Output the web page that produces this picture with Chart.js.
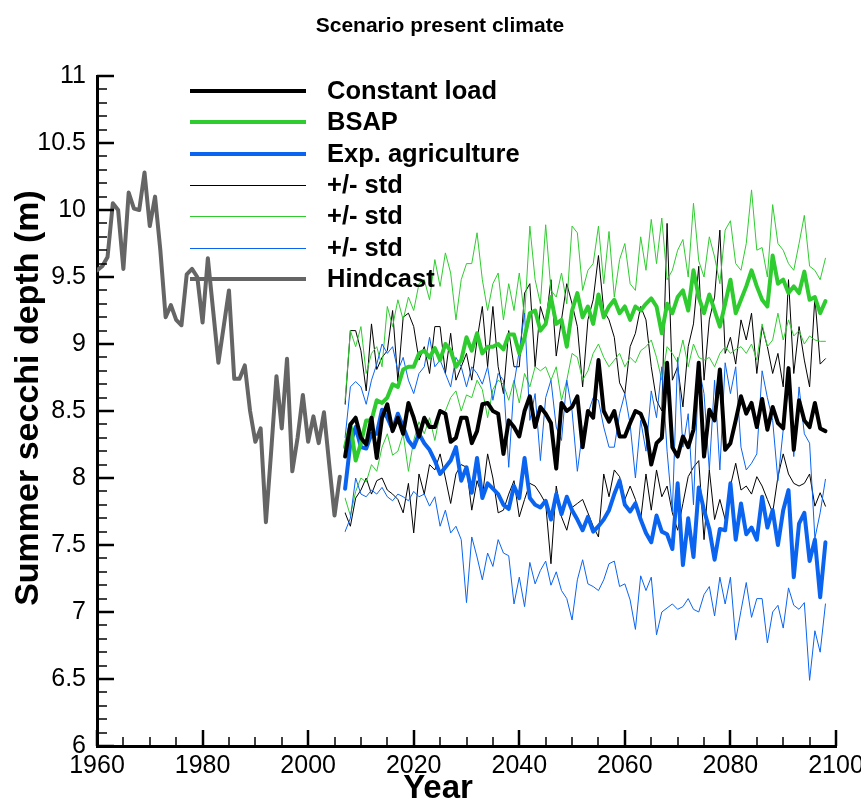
<!DOCTYPE html>
<html><head><meta charset="utf-8">
<script src="https://cdn.jsdelivr.net/npm/chart.js@4.4.1/dist/chart.umd.min.js"></script>
<style>html,body{margin:0;padding:0;background:#fff;}#wrap{width:861px;height:805px;position:relative;}</style>
</head><body><div id="wrap"><canvas id="c" width="861" height="805"></canvas></div>
<script>
const FONT = "'Liberation Sans', Arial, Helvetica, sans-serif";
const chartTitle = "Scenario present climate";
const xTitle = "Year";
const yTitle = "Summer secchi depth (m)";

const hindcastYears = [1960,1961,1962,1963,1964,1965,1966,1967,1968,1969,1970,1971,1972,1973,1974,1975,1976,1977,1978,1979,1980,1981,1982,1983,1984,1985,1986,1987,1988,1989,1990,1991,1992,1993,1994,1995,1996,1997,1998,1999,2000,2001,2002,2003,2004,2005,2006];
const hindcast = [9.55,9.58,9.65,10.05,10.0,9.56,10.13,10.01,10.0,10.28,9.88,10.1,9.7,9.2,9.29,9.18,9.14,9.52,9.56,9.5,9.16,9.64,9.25,8.86,9.13,9.40,8.74,8.74,8.84,8.5,8.27,8.37,7.67,8.2,8.76,8.37,8.89,8.05,8.3,8.62,8.27,8.46,8.26,8.49,8.1,7.72,8.01];

const scenarioYears = [2007,2008,2009,2010,2011,2012,2013,2014,2015,2016,2017,2018,2019,2020,2021,2022,2023,2024,2025,2026,2027,2028,2029,2030,2031,2032,2033,2034,2035,2036,2037,2038,2039,2040,2041,2042,2043,2044,2045,2046,2047,2048,2049,2050,2051,2052,2053,2054,2055,2056,2057,2058,2059,2060,2061,2062,2063,2064,2065,2066,2067,2068,2069,2070,2071,2072,2073,2074,2075,2076,2077,2078,2079,2080,2081,2082,2083,2084,2085,2086,2087,2088,2089,2090,2091,2092,2093,2094,2095,2096,2097,2098];

const constantLoad = [8.16,8.40,8.45,8.30,8.25,8.45,8.15,8.45,8.55,8.35,
8.45,8.33,8.56,8.45,8.31,8.45,8.38,8.38,8.50,8.48,
8.27,8.30,8.45,8.45,8.26,8.35,8.55,8.56,8.50,8.48,
8.18,8.43,8.38,8.31,8.50,8.61,8.38,8.53,8.48,8.41,
8.07,8.56,8.50,8.53,8.61,8.23,8.50,8.45,8.88,8.50,
8.42,8.50,8.31,8.31,8.41,8.50,8.48,8.38,8.10,8.26,
8.30,8.86,8.23,8.16,8.31,8.23,8.36,8.86,8.16,8.51,
8.43,8.81,8.21,8.26,8.43,8.61,8.48,8.56,8.38,8.59,
8.36,8.53,8.41,8.37,8.82,8.21,8.58,8.43,8.38,8.56,
8.37,8.35];
const bsap = [8.23,8.40,8.13,8.26,8.43,8.43,8.58,8.56,8.60,8.70,
8.68,8.81,8.83,8.83,8.93,8.95,8.90,8.97,8.88,9.00,
8.95,8.83,8.88,9.05,8.95,9.08,8.93,8.98,8.98,9.00,
8.96,9.07,9.07,8.93,9.05,9.23,9.25,9.10,9.15,9.35,
9.15,9.18,8.98,9.25,9.38,9.20,9.28,9.15,9.37,9.20,
9.28,9.33,9.23,9.28,9.18,9.28,9.25,9.30,9.34,9.28,
9.08,9.30,9.23,9.35,9.40,9.25,9.55,9.35,9.23,9.37,
9.25,9.13,9.30,9.48,9.23,9.33,9.43,9.55,9.43,9.33,
9.28,9.66,9.45,9.48,9.38,9.43,9.38,9.54,9.33,9.35,
9.23,9.32];
const expAgriculture = [7.92,8.26,8.38,8.23,8.22,8.33,8.33,8.51,8.45,8.36,
8.48,8.38,8.28,8.23,8.33,8.26,8.21,8.13,8.03,8.08,
8.13,8.23,7.98,8.08,7.89,8.15,7.85,7.96,7.92,7.88,
7.80,7.77,7.94,7.85,8.15,7.85,7.80,7.78,7.83,7.69,
7.88,7.73,7.86,7.76,7.69,7.61,7.71,7.60,7.64,7.69,
7.76,7.88,7.98,7.80,7.75,7.81,7.69,7.59,7.52,7.72,
7.60,7.58,7.47,7.96,7.35,7.70,7.41,7.93,7.76,7.62,
7.39,7.62,7.61,7.96,7.54,7.81,7.58,7.63,7.54,7.86,
7.63,7.76,7.50,7.76,7.91,7.26,7.66,7.74,7.38,7.54,
7.11,7.52];

const constantLoadPlusStd = [8.55,9.10,9.10,8.95,8.65,9.15,8.81,8.90,8.95,9.25,
8.72,9.20,9.23,9.13,8.88,8.98,8.78,9.13,9.13,8.78,
9.08,8.73,8.83,8.93,8.73,9.03,9.28,8.83,9.28,8.83,
8.63,9.10,8.83,8.83,9.38,9.45,8.83,9.28,9.15,9.48,
8.91,9.18,9.45,9.30,9.13,8.68,9.18,9.33,9.66,9.25,
9.18,9.05,8.71,8.63,8.98,9.08,9.28,9.18,8.83,8.58,
8.50,9.90,8.73,8.83,8.53,8.98,9.15,9.58,8.73,9.18,
9.35,9.85,8.93,9.05,8.85,9.18,9.03,9.23,8.78,9.13,
8.98,8.78,8.93,8.68,9.48,8.78,9.13,8.88,8.68,9.35,
8.85,8.89];
const constantLoadMinusStd = [7.74,7.64,7.85,7.91,8.00,7.88,7.98,8.00,7.91,7.88,
7.84,7.74,7.96,7.59,8.03,7.88,8.10,8.06,8.18,8.00,
7.81,8.03,8.10,8.08,7.76,7.98,7.86,8.18,8.00,7.74,
7.76,7.88,7.98,7.71,7.84,7.96,7.94,7.88,7.81,7.36,
7.94,7.71,7.61,7.78,7.81,7.84,7.74,7.64,7.56,8.03,
7.86,8.06,8.01,7.84,7.94,7.84,7.69,8.03,7.76,8.06,
7.86,7.94,7.74,7.61,7.81,8.01,8.08,8.13,7.54,8.06,
7.69,7.84,7.69,7.94,8.11,7.91,7.94,7.88,8.01,7.94,
7.84,7.74,8.01,8.18,8.03,7.96,7.94,7.96,8.03,7.79,
7.89,7.79];
const bsapPlusStd = [8.58,9.10,8.98,9.13,8.78,8.93,8.98,8.83,9.28,9.13,
9.33,9.18,9.35,9.25,9.45,9.48,9.33,9.63,9.43,9.68,
9.53,9.18,9.48,9.60,9.60,9.83,9.48,9.25,9.45,9.53,
9.18,9.45,9.25,9.53,9.20,9.88,9.48,9.30,9.89,9.40,
9.35,9.53,9.30,9.88,9.83,9.40,9.55,9.60,9.88,9.45,
9.84,9.35,9.63,9.75,9.45,9.40,9.80,9.55,9.93,9.60,
9.94,9.48,9.55,9.70,9.78,9.50,10.05,9.62,9.50,9.80,
9.65,9.45,9.85,9.92,9.60,9.55,9.75,10.15,9.70,9.72,
9.50,10.04,9.75,9.70,9.60,9.55,9.75,9.96,9.58,9.55,
9.48,9.64];
const bsapMinusStd = [7.85,7.72,7.90,8.00,7.97,8.10,8.05,8.23,8.33,8.17,
8.20,8.33,8.05,8.28,8.42,8.33,8.45,8.28,8.48,8.50,
8.60,8.65,8.50,8.62,8.60,8.73,8.66,8.45,8.66,8.73,
8.70,8.58,8.73,8.56,8.78,8.68,8.83,8.80,8.83,8.73,
8.83,8.58,8.73,8.93,8.90,8.73,8.80,8.93,9.00,8.90,
8.83,8.88,8.93,8.83,8.90,8.86,8.95,8.98,9.03,8.90,
8.73,8.98,8.93,8.86,9.03,8.83,9.00,8.90,8.88,8.90,
8.83,8.93,8.98,8.93,8.96,8.98,8.93,9.00,8.88,9.15,
8.98,9.03,9.23,9.03,9.18,9.06,9.10,9.00,9.06,9.03,
9.02,9.02];
const expAgriculturePlusStd = [8.30,8.68,8.72,8.68,8.55,8.73,8.85,9.00,8.93,8.98,
8.80,8.90,8.73,8.63,8.78,8.83,9.05,8.83,8.88,8.78,
8.68,8.90,8.83,8.68,8.83,8.78,8.70,8.83,8.58,8.78,
8.73,8.08,8.70,8.95,9.23,8.43,8.63,8.13,8.60,8.73,
8.38,8.28,8.73,8.50,8.05,8.35,8.48,8.60,8.58,8.38,
8.23,8.23,8.48,8.63,8.40,8.00,8.43,8.20,8.65,8.45,
8.83,8.20,7.75,8.90,8.23,8.48,7.80,8.83,8.63,8.06,
8.73,8.06,8.86,8.63,8.83,8.23,8.06,8.11,8.18,8.80,
8.60,8.43,7.98,8.36,8.68,8.16,8.68,8.33,8.26,7.55,
7.74,7.99];
const expAgricultureMinusStd = [7.60,7.70,8.00,7.88,7.86,7.91,7.88,7.93,7.86,7.83,
7.88,7.86,7.83,7.90,7.86,7.88,7.79,7.86,7.64,7.76,
7.59,7.64,7.54,7.07,7.56,7.41,7.24,7.44,7.34,7.54,
7.44,7.42,7.06,7.26,7.04,7.37,7.21,7.31,7.38,7.20,
7.30,7.16,7.10,6.94,7.24,7.39,7.21,7.19,7.16,7.24,
7.36,7.38,7.19,7.21,7.09,6.87,7.27,7.16,7.26,6.83,
7.00,7.03,7.06,7.02,7.04,7.10,7.02,7.00,7.13,7.19,
6.97,7.26,7.06,7.26,6.79,7.01,7.22,6.96,7.10,7.10,
6.77,7.00,7.05,6.88,7.18,7.05,7.02,7.07,6.49,6.86,
6.70,7.06];

const legendLabels = ["Constant load","BSAP","Exp. agriculture","+/- std","+/- std","+/- std","Hindcast"];

const BLACK = "#000000", GREEN = "#2fcc2f", BLUE = "#0a64f0", GREY = "#656565";
const legendColors = [BLACK, GREEN, BLUE, BLACK, GREEN, BLUE, GREY];
const legendWidths = [4, 4, 4, 1, 1, 1, 4];

function pts(xs, ys){ return xs.map((x,i)=>({x:x, y:ys[i]})); }
function ds(label, xs, ys, color, width, order){
  return {label, data: pts(xs, ys), borderColor: color, backgroundColor: color, borderWidth: width,
    pointRadius: 0, tension: 0, fill: false, order, borderJoinStyle: 'round', borderCapStyle: 'round'};
}

const datasets = [
  ds(legendLabels[0], scenarioYears, constantLoad, BLACK, 4, 1),
  ds(legendLabels[1], scenarioYears, bsap, GREEN, 4, 2),
  ds(legendLabels[2], scenarioYears, expAgriculture, BLUE, 4, 3),
  ds(legendLabels[3], scenarioYears, constantLoadPlusStd, BLACK, 1, 6),
  ds(legendLabels[4], scenarioYears, bsapPlusStd, GREEN, 1, 5),
  ds(legendLabels[5], scenarioYears, expAgriculturePlusStd, BLUE, 1, 4),
  ds(legendLabels[6], hindcastYears, hindcast, GREY, 4, 0),
  ds(legendLabels[3], scenarioYears, constantLoadMinusStd, BLACK, 1, 6),
  ds(legendLabels[4], scenarioYears, bsapMinusStd, GREEN, 1, 5),
  ds(legendLabels[5], scenarioYears, expAgricultureMinusStd, BLUE, 1, 4)
];

const decor = {
  id: 'decor',
  afterDatasetsDraw(chart){
    const ctx = chart.ctx, xs = chart.scales.x, ys = chart.scales.y;
    ctx.save();
    ctx.strokeStyle = '#000';
    for (let v = 1960; v <= 2100; v += 5){
      const major = (v % 20 === 0);
      const px = Math.round(xs.getPixelForValue(v));
      ctx.lineWidth = major ? 2.5 : 1.5;
      ctx.beginPath(); ctx.moveTo(px, ys.bottom); ctx.lineTo(px, ys.bottom - (major ? 16 : 9)); ctx.stroke();
    }
    for (let k = 0; k <= 50; k++){
      const v = 6 + k*0.1;
      const major = (k % 5 === 0);
      const py = Math.round(ys.getPixelForValue(v));
      ctx.lineWidth = major ? 2.5 : 1.5;
      ctx.beginPath(); ctx.moveTo(xs.left, py); ctx.lineTo(xs.left + (major ? 17 : 10), py); ctx.stroke();
    }
    ctx.restore();
  },
  afterDraw(chart){
    const ctx = chart.ctx;
    ctx.save();
    ctx.fillStyle = '#000';
    ctx.textAlign = 'center'; ctx.textBaseline = 'middle';
    ctx.font = "bold 21px " + FONT;
    ctx.fillText(chartTitle, 440, 26);
    ctx.font = "bold 33px " + FONT;
    ctx.fillText(xTitle, 438, 789);
    ctx.save();
    ctx.translate(29, 398);
    ctx.rotate(-Math.PI/2);
    ctx.font = "bold 34px " + FONT;
    ctx.fillText(yTitle, 0, 0);
    ctx.restore();
    ctx.font = "bold 25.5px " + FONT;
    ctx.textAlign = 'left';
    const y0 = 91, dy = 31.3;
    for (let i = 0; i < legendLabels.length; i++){
      const y = Math.round(y0 + i*dy) + (legendWidths[i] % 2 ? 0.5 : 0);
      ctx.strokeStyle = legendColors[i]; ctx.lineWidth = legendWidths[i];
      ctx.beginPath(); ctx.moveTo(190, y); ctx.lineTo(306, y); ctx.stroke();
      ctx.fillStyle = '#000';
      ctx.fillText(legendLabels[i], 327, Math.round(y0 + i*dy) + 1);
    }
    ctx.restore();
  }
};

new Chart(document.getElementById('c'), {
  type: 'line',
  data: { datasets },
  options: {
    responsive: false, animation: false, devicePixelRatio: 1,
    layout: { padding: { top: 76, right: 25, bottom: 0, left: 0 } },
    plugins: { legend: { display: false }, tooltip: { enabled: false }, title: { display: false } },
    scales: {
      x: {
        type: 'linear', min: 1960, max: 2100,
        grid: { display: false, drawTicks: false },
        border: { display: true, width: 3, color: '#000' },
        ticks: { stepSize: 20, color: '#000', font: { family: FONT, size: 25 }, padding: 5, maxRotation: 0, autoSkip: false,
          callback: v => String(v) },
        title: { display: false },
        afterFit: s => { s.height = 59; s.paddingLeft = 0; s.paddingRight = 0; }
      },
      y: {
        type: 'linear', min: 6, max: 11,
        grid: { display: false, drawTicks: false },
        border: { display: true, width: 3, color: '#000' },
        ticks: { stepSize: 0.5, color: '#000', font: { family: FONT, size: 25 }, padding: 11, callback: v => String(v) },
        title: { display: false },
        afterFit: s => { s.width = 97; s.paddingTop = 0; s.paddingBottom = 0; }
      }
    }
  },
  plugins: [decor]
});
</script></body></html>
